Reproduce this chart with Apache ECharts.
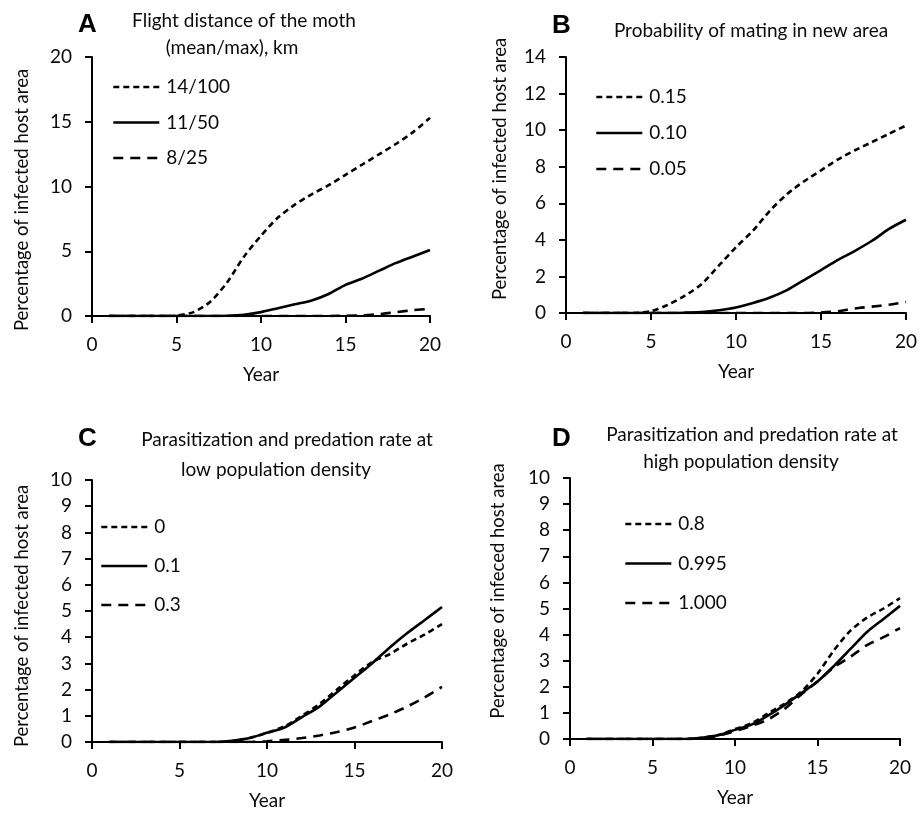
<!DOCTYPE html>
<html>
<head>
<meta charset="utf-8">
<script src="https://cdn.jsdelivr.net/npm/echarts@6/dist/echarts.min.js"></script>
<style>
html,body{margin:0;padding:0;background:#fff;}
#main{width:921px;height:817px;}
</style>
</head>
<body>
<div id="main"></div>
<script>
// ---- data ----
const years = [1,2,3,4,5,6,7,8,9,10,11,12,13,14,15,16,17,18,19,20];

// Panel A: flight distance (mean/max), km
const namesA = ['14/100','11/50','8/25'];
const a_14_100 = [0,0,0,0,0.03,0.3,1.1,2.6,4.6,6.2,7.6,8.6,9.4,10.1,10.9,11.7,12.5,13.3,14.2,15.3];
const a_11_50  = [0,0,0,0,0,0,0,0.02,0.1,0.3,0.6,0.9,1.2,1.7,2.4,2.9,3.5,4.1,4.6,5.1];
const a_8_25   = [0,0,0,0,0,0,0,0,0,0,0,0,0,0,0.02,0.05,0.15,0.3,0.45,0.55];

// Panel B: probability of mating in new area
const namesB = ['0.15','0.10','0.05'];
const b_015 = [0,0,0,0,0.1,0.45,0.95,1.6,2.6,3.6,4.5,5.6,6.5,7.2,7.8,8.4,8.9,9.35,9.8,10.25];
const b_010 = [0,0,0,0,0,0,0.02,0.05,0.15,0.3,0.55,0.85,1.25,1.8,2.35,2.9,3.4,3.95,4.6,5.1];
const b_005 = [0,0,0,0,0,0,0,0,0,0,0,0,0,0,0.03,0.1,0.25,0.35,0.45,0.6];

// Panel C: parasitization/predation at low density
const namesC = ['0','0.1','0.3'];
const c_0   = [0,0,0,0,0,0,0,0.03,0.15,0.35,0.6,1.0,1.45,2.0,2.55,3.05,3.35,3.75,4.1,4.5];
const c_01  = [0,0,0,0,0,0,0,0.05,0.15,0.35,0.55,0.95,1.35,1.9,2.45,3.0,3.6,4.15,4.65,5.15];
const c_03  = [0,0,0,0,0,0,0,0,0,0.03,0.08,0.15,0.25,0.38,0.55,0.8,1.05,1.35,1.7,2.1];

// Panel D: parasitization/predation at high density
const namesD = ['0.8','0.995','1.000'];
const d_08    = [0,0,0,0,0,0,0,0.05,0.15,0.38,0.6,0.98,1.35,1.8,2.5,3.4,4.15,4.65,5.0,5.4];
const d_0995  = [0,0,0,0,0,0,0,0.05,0.15,0.35,0.55,0.9,1.3,1.75,2.2,2.8,3.45,4.1,4.6,5.1];
const d_1000  = [0,0,0,0,0,0,0,0.04,0.12,0.3,0.5,0.75,1.15,1.7,2.2,2.75,3.15,3.6,3.9,4.25];

// axis ranges
const yMaxA = 20, yIntA = 5;
const yMaxB = 14, yIntB = 2;
const yMaxC = 10, yIntC = 1;
const yMaxD = 10, yIntD = 1;
const xTicks = {min:0, max:20, interval:5};

// ---- chart ----
const FONT = 'Lato, "Open Sans", sans-serif';
const TXT = '#0a0a0a';
const chart = echarts.init(document.getElementById('main'), null, {renderer:'canvas'});

const shortDash = [6,4];
const longDash  = [10,7];
const styles = [shortDash, 'solid', longDash];

const grids = [
  {left:92,  top:57,  width:338, height:259},
  {left:566, top:57,  width:340, height:256},
  {left:92,  top:480, width:350, height:262},
  {left:570, top:478, width:330, height:261}
];
const yCfg = [[yMaxA,yIntA],[yMaxB,yIntB],[yMaxC,yIntC],[yMaxD,yIntD]];
const panels = [
  {names:namesA, data:[a_14_100,a_11_50,a_8_25]},
  {names:namesB, data:[b_015,b_010,b_005]},
  {names:namesC, data:[c_0,c_01,c_03]},
  {names:namesD, data:[d_08,d_0995,d_1000]}
];
const legendPos = [
  {left:112, top:77, gap:15.5},
  {left:595, top:87, gap:16},
  {left:100, top:517, gap:19},
  {left:624, top:514, gap:19.5}
];

const axisLine = {show:true, lineStyle:{color:'#000', width:2}};
const axisTick = {show:true, inside:false, length:7, lineStyle:{color:'#000', width:2}};

const xAxis = [], yAxis = [], series = [], legend = [];
grids.forEach((g, i) => {
  xAxis.push({
    type:'value', gridIndex:i, min:xTicks.min, max:xTicks.max, interval:xTicks.interval,
    axisLine, axisTick, splitLine:{show:false},
    axisLabel:{color:TXT, fontFamily:FONT, fontSize:19, margin:19},
    name:'Year', nameLocation:'middle', nameGap:49,
    nameTextStyle:{color:TXT, fontFamily:FONT, fontSize:19}
  });
  yAxis.push({
    type:'value', gridIndex:i, min:0, max:yCfg[i][0], interval:yCfg[i][1],
    axisLine, axisTick, splitLine:{show:false},
    axisLabel:{color:TXT, fontFamily:FONT, fontSize:19, margin:20}
  });
  const p = panels[i];
  p.names.forEach((nm, k) => {
    series.push({
      name:nm, type:'line', xAxisIndex:i, yAxisIndex:i,
      data: years.map((y, j) => [y, p.data[k][j]]),
      symbol:'none', smooth:0.25, silent:true,
      itemStyle:{color:'#000'},
      lineStyle:{color:'#000', width:2.6, type:styles[k]}
    });
  });
  legend.push({
    data:p.names, orient:'vertical', left:legendPos[i].left, top:legendPos[i].top,
    padding:0,
    itemWidth:46, itemHeight:14, itemGap:legendPos[i].gap, selectedMode:false,
    itemStyle:{opacity:0, borderWidth:0},
    lineStyle:{width:2.6, color:'#000'},
    textStyle:{color:TXT, fontFamily:FONT, fontSize:19, lineHeight:20, padding:[0,0,0,2]}
  });
});

function txt(x, y, text, opt) {
  return Object.assign({
    type:'text', x:x, y:y, silent:true,
    style:Object.assign({text:text, fill:TXT, font:'19px ' + FONT, textAlign:'center', textVerticalAlign:'middle'}, opt || {})
  });
}
function letter(x, y, t) {
  return {type:'text', x:x, y:y, silent:true,
    style:{text:t, fill:'#000', font:'bold 26px Arial, "Liberation Sans", sans-serif', textAlign:'left', textVerticalAlign:'middle'}};
}
function yname(x, y, t) {
  return {type:'text', x:x, y:y, rotation:Math.PI/2, silent:true,
    style:{text:t, fill:TXT, font:'18.5px ' + FONT, textAlign:'center', textVerticalAlign:'middle'}};
}

const graphic = [
  letter(78, 25, 'A'),
  txt(244, 21, 'Flight distance of the moth'),
  txt(232, 48, '(mean/max), km'),
  letter(552, 26, 'B'),
  txt(751, 31, 'Probability of mating in new area'),
  letter(78, 439, 'C'),
  txt(287, 440, 'Parasitization and predation rate at'),
  txt(276, 470, 'low population density'),
  letter(552, 439, 'D'),
  txt(752, 435, 'Parasitization and predation rate at'),
  txt(741, 462, 'high population density'),
  yname(22, 200, 'Percentage of infected host area'),
  yname(500, 169, 'Percentage of infected host area'),
  yname(22, 616, 'Percentage of infected host area'),
  yname(498, 591, 'Percentage of infeced host area')
];

chart.setOption({
  backgroundColor:'#fff',
  animation:false,
  grid:grids,
  xAxis, yAxis, series, legend, graphic
});
</script>
</body>
</html>
